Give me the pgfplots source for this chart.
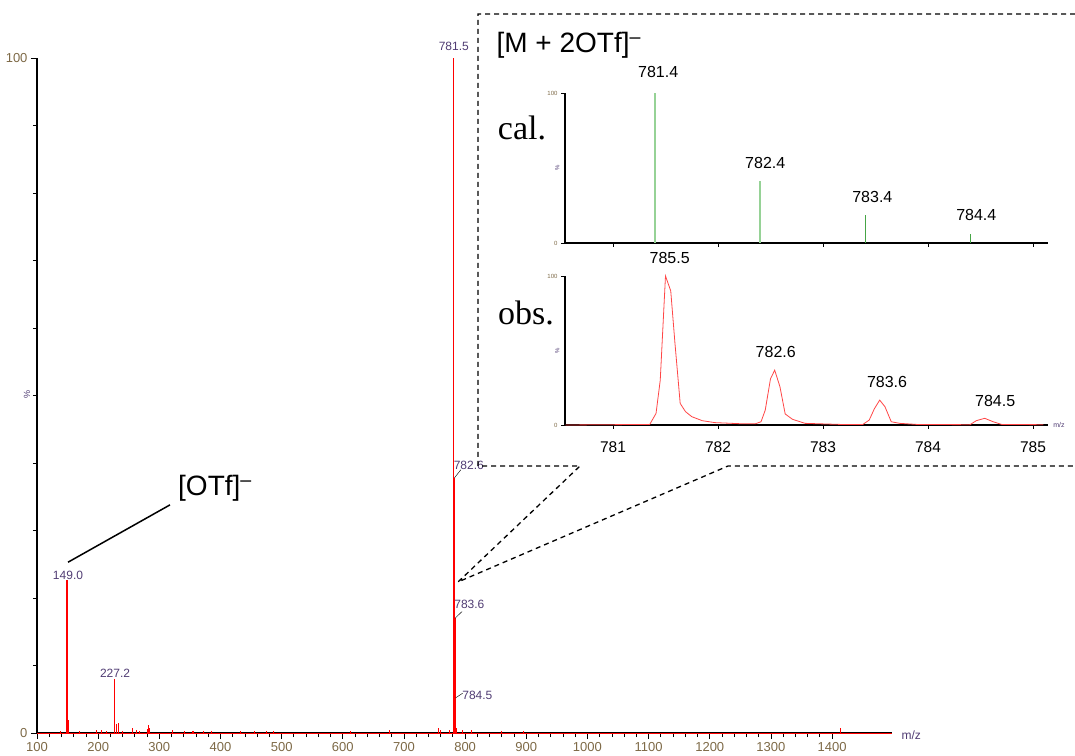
\documentclass[border=0pt]{standalone}
\usepackage{pgfplots}
\pgfplotsset{compat=1.18}
\usepackage{fontspec}
\setmainfont{Liberation Sans}
\newfontfamily\seriffont{Liberation Serif}
\definecolor{tickcol}{RGB}{125,105,70}
\definecolor{lblcol}{RGB}{80,60,115}
\definecolor{calgreen}{RGB}{150,210,150}
\definecolor{calgreenD}{RGB}{70,165,70}
\definecolor{obsred}{RGB}{255,70,70}
\begin{document}
\begin{tikzpicture}[x=1pt,y=1pt]
\useasboundingbox (0,0) rectangle (1075,755);
% ---------- main spectrum ----------
\begin{axis}[
  at={(37pt,22pt)}, anchor=south west,
  scale only axis, width=855pt, height=675pt,
  xmin=100, xmax=1498, ymin=0, ymax=100,
  axis x line*=bottom, axis y line*=left,
  axis line style={line width=1.6pt, black},
  xtick={100,200,...,1400}, minor x tick num=4,
  ytick={0,100}, minor y tick num=9,
  tick align=outside, major tick length=6pt, minor tick length=4pt,
  tick style={black, line width=0.8pt},
  ticklabel style={font=\fontsize{13}{13}\selectfont, text=tickcol},
  /pgf/number format/assume math mode=true,
  /pgf/number format/1000 sep={},
  clip=false,
]
\addplot[red, line width=1pt] coordinates {(100,0) (1498,0)};
\addplot[ycomb, red, line width=1.1pt, mark=none] coordinates {
(138,0.3) (149.0,22.7) (151.0,2.0) (170,0.3) (198,0.4) (205,0.5) (213,0.3)
(227.2,8.0) (229.5,1.3) (233,1.5) (240,0.3) (255.5,0.8) (262,0.4) (268,0.3)
(280,0.6) (282.5,1.2) (284,0.8) (322,0.5) (341,0.3) (355,0.3) (372,0.3)
(386,0.3) (432,0.3) (456,0.3) (475,0.3) (487,0.3) (613,0.3) (676,0.5)
(756,0.7) (760,0.4) (775,0.4) (781.5,100) (782.6,37.8) (783.6,17.0)
(784.5,5.2) (786,0.8) (796,0.4) (811,0.5) (860,0.3) (895,0.3) (1414,0.8)
};
\begin{scope}[font=\fontsize{12}{12}\selectfont, text=lblcol]
\node at (axis cs:781.5,101.7) {781.5};
\node at (axis cs:806,39.6) {782.6};
\node at (axis cs:807,19.1) {783.6};
\node at (axis cs:820,5.6) {784.5};
\node at (axis cs:150.7,23.4) {149.0};
\node at (axis cs:227.6,8.9) {227.2};
\end{scope}
\draw[black, line width=0.4pt] (axis cs:782.6,37.8) -- (axis cs:793,39);
\draw[black, line width=0.4pt] (axis cs:783.6,17.0) -- (axis cs:795,18);
\draw[black, line width=0.4pt] (axis cs:784.5,5.2) -- (axis cs:796,5.9);
\draw[black, line width=1.5pt] (axis cs:150.7,25.3) -- (axis cs:317.5,33.8);
\end{axis}
\node[rotate=90, font=\fontsize{9}{9}\selectfont, text=lblcol] at (27,360) {\%};
\node[font=\fontsize{12}{12}\selectfont, text=lblcol, anchor=west] at (898,20) {m/z};
\node[font=\fontsize{28}{28}\selectfont, anchor=center] at (215,267) {[OTf]\textsuperscript{\textendash}};
% ---------- inset: calculated ----------
\begin{axis}[
  at={(565pt,512pt)}, anchor=south west,
  scale only axis, width=483pt, height=150pt,
  xmin=780.543, xmax=785.143, ymin=0, ymax=100,
  axis x line*=bottom, axis y line*=left,
  axis line style={line width=1.1pt, black},
  xtick={781,782,783,784,785}, xticklabels={},
  ytick={0,100},
  tick align=outside, major tick length=4pt,
  tick style={black, line width=0.6pt},
  yticklabel style={font=\fontsize{6}{6}\selectfont, text=tickcol},
  /pgf/number format/assume math mode=true,
  clip=false,
]
\addplot[ycomb, calgreen, line width=1.4pt] coordinates {(781.4,100) (782.4,41)};
\addplot[ycomb, calgreenD, line width=0.8pt] coordinates {(783.4,18.7) (784.4,6)};
\begin{scope}[font=\fontsize{16}{16}\selectfont]
\node at (axis cs:781.43,114) {781.4};
\node at (axis cs:782.45,53.3) {782.4};
\node at (axis cs:783.47,30.7) {783.4};
\node at (axis cs:784.46,18.7) {784.4};
\end{scope}
\node[rotate=90, font=\fontsize{6}{6}\selectfont, text=lblcol] at (axis cs:780.47,50) {\%};
\end{axis}
% ---------- inset: observed ----------
\begin{axis}[
  at={(565pt,330pt)}, anchor=south west,
  scale only axis, width=483pt, height=149pt,
  xmin=780.543, xmax=785.143, ymin=0, ymax=100,
  axis x line*=bottom, axis y line*=left,
  axis line style={line width=1.1pt, black},
  xtick={781,782,783,784,785},
  ytick={0,100},
  tick align=outside, major tick length=4pt,
  tick style={black, line width=0.6pt},
  xticklabel style={font=\fontsize{15.5}{15.5}\selectfont, text=black, yshift=-9pt},
  yticklabel style={font=\fontsize{6}{6}\selectfont, text=tickcol},
  /pgf/number format/assume math mode=true,
  clip=false,
]
\addplot[obsred, line width=0.8pt, sharp plot] coordinates {
(780.55,0) (781.35,0.4) (781.41,7.8) (781.45,30) (781.50,100) (781.55,90)
(781.59,55) (781.64,14.5) (781.69,9) (781.75,5.6) (781.85,2.9) (781.97,1.6)
(782.20,0.9) (782.36,0.9) (782.41,2.2) (782.45,10) (782.50,31) (782.54,36.8)
(782.59,25.7) (782.64,7.4) (782.71,3.8) (782.83,1.1) (783.16,0.4) (783.38,0.4)
(783.44,3.3) (783.49,11) (783.54,16.7) (783.59,12.3) (783.65,2.2) (783.73,1.1)
(783.89,0.4) (784.40,0.2) (784.46,2.9) (784.54,4.5) (784.62,2.2) (784.70,0.4)
(785.10,0.2)
};
\begin{scope}[font=\fontsize{16}{16}\selectfont]
\node at (axis cs:781.54,112) {785.5};
\node at (axis cs:782.55,49) {782.6};
\node at (axis cs:783.61,28.9) {783.6};
\node at (axis cs:784.64,16.1) {784.5};
\end{scope}
\node[rotate=90, font=\fontsize{6}{6}\selectfont, text=lblcol] at (axis cs:780.47,50) {\%};
\node[font=\fontsize{7}{7}\selectfont, text=lblcol, anchor=west] at (axis cs:785.16,0) {m/z};
\end{axis}
% ---------- inset labels and dashed frame ----------
\node[font=\fontsize{28}{28}\selectfont, anchor=west] at (493,710) {[M + 2OTf]\textsuperscript{\textendash}};
\node[font=\seriffont\fontsize{34}{34}\selectfont] at (522,627) {cal.};
\node[font=\seriffont\fontsize{34}{34}\selectfont] at (526,442) {obs.};
\begin{scope}[line width=1.3pt, dash pattern=on 5pt off 4pt]
\draw (1075,741) -- (478,741) -- (478,289) -- (580,289) -- (458,173) -- (728,289) -- (1075,289);
\end{scope}
\end{tikzpicture}
\end{document}
